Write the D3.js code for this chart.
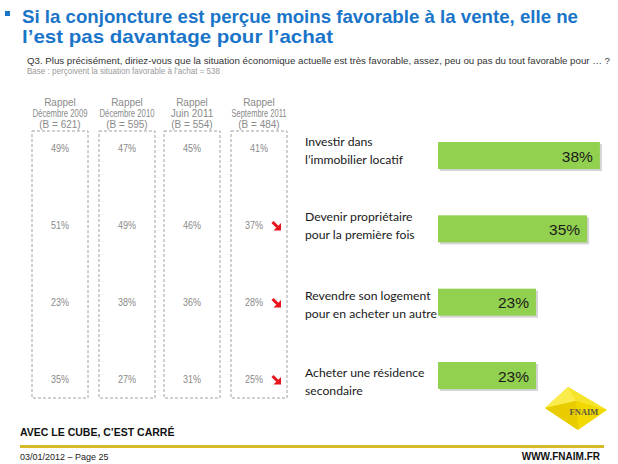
<!DOCTYPE html>
<html><head><meta charset="utf-8">
<script src="https://cdn.jsdelivr.net/npm/d3@7/dist/d3.min.js"></script>
<style>
html,body{margin:0;padding:0;background:#fff;}
svg{display:block;}
</style></head>
<body>
<svg id="c" width="618" height="464"></svg>
<script>
const titleLines = ["Si la conjoncture est perçue moins favorable à la vente, elle ne", "l’est pas davantage pour l’achat"];
const question = "Q3. Plus précisément, diriez-vous que la situation économique actuelle est très favorable, assez, peu ou pas du tout favorable pour … ?";
const baseNote = "Base : perçoivent la situation favorable à l’achat = 538";
const categories = [
  ["Investir dans", "l’immobilier locatif"],
  ["Devenir propriétaire", "pour la première fois"],
  ["Revendre son logement", "pour en acheter un autre"],
  ["Acheter une résidence", "secondaire"]
];
const values = [38, 35, 23, 23];
const periods = [
  ["Rappel", "Décembre 2009", "(B = 621)"],
  ["Rappel", "Décembre 2010", "(B = 595)"],
  ["Rappel", "Juin 2011", "(B = 554)"],
  ["Rappel", "Septembre 2011", "(B = 484)"]
];
const history = [
  [49, 51, 23, 35],
  [47, 49, 38, 27],
  [45, 46, 36, 31],
  [41, 37, 28, 25]
];
const decline = [false, true, true, true]; // red arrows on last period
const footerLeft = "AVEC LE CUBE, C’EST CARRÉ";
const footerDate = "03/01/2012 – Page 25";
const footerUrl = "WWW.FNAIM.FR";

const svg = d3.select("#c");
const sans = "Liberation Sans Narrow, Liberation Sans, Arial, sans-serif";

function clampWidth(sel, maxW) {
  sel.each(function() {
    const w = this.getComputedTextLength();
    if (w > maxW) d3.select(this).attr("textLength", maxW).attr("lengthAdjust", "spacingAndGlyphs");
  });
}

// Title
const blue = "#1a75c9";
svg.append("rect").attr("x", 5).attr("y", 11).attr("width", 5).attr("height", 5).attr("fill", blue);
const titleLens = [556, 311];
svg.selectAll(".title").data(titleLines).join("text")
  .attr("x", 22).attr("y", (d, i) => 23 + i * 20)
  .attr("font-family", "Liberation Sans, Arial, sans-serif")
  .attr("font-weight", "bold").attr("font-size", 19).attr("fill", blue)
  .attr("textLength", (d, i) => titleLens[i]).attr("lengthAdjust", "spacingAndGlyphs")
  .text(d => d);

svg.append("text").attr("x", 27).attr("y", 64)
  .attr("font-family", sans)
  .attr("font-size", 9.5).attr("fill", "#333").attr("textLength", 583).attr("lengthAdjust", "spacingAndGlyphs")
  .text(question);
svg.append("text").attr("x", 27).attr("y", 74)
  .attr("font-family", sans)
  .attr("font-size", 9.5).attr("fill", "#999").attr("textLength", 193).attr("lengthAdjust", "spacingAndGlyphs")
  .text(baseNote);

// History columns
const colLeft = [32, 99, 164, 231];
const colW = 56;
const histY = d3.scalePoint().domain(d3.range(4)).range([152, 383]);

const cols = svg.selectAll(".col").data(periods).join("g").attr("class", "col")
  .attr("transform", (d, i) => `translate(${colLeft[i]},0)`);

cols.append("rect").attr("x", 0).attr("y", 131).attr("width", colW).attr("height", 267)
  .attr("fill", "none").attr("stroke", "#a0a0a0").attr("stroke-width", 1).attr("stroke-dasharray", "3,2");

cols.each(function(p, ci) {
  const g = d3.select(this);
  const hd = g.selectAll(".hd").data(p).join("text")
    .attr("x", colW / 2).attr("y", (d, i) => 105.5 + i * 11)
    .attr("text-anchor", "middle")
    .attr("font-family", sans)
    .attr("font-size", 10).attr("fill", "#8a8a8a").text(d => d);
  clampWidth(hd, 55);
  const last = ci === periods.length - 1;
  const vals = g.selectAll(".v").data(history[ci]).join("text")
    .attr("x", (d, i) => last && decline[i] ? colW / 2 - 5 : colW / 2)
    .attr("y", (d, i) => histY(i))
    .attr("text-anchor", "middle")
    .attr("font-family", sans)
    .attr("font-size", 10.5).attr("fill", "#8a8a8a").text(d => d + "%");
  clampWidth(vals, 18);
  if (last) {
    const ar = g.selectAll(".arr").data(history[ci].map((d, i) => i).filter(i => decline[i])).join("g")
      .attr("transform", i => `translate(${colW / 2 + 17},${histY(i) - 3.5})`);
    ar.append("line").attr("x1", -3.5).attr("y1", -3.5).attr("x2", 1.5).attr("y2", 1.5)
      .attr("stroke", "#e8141c").attr("stroke-width", 3);
    ar.append("path").attr("d", "M5,5 L5,-2.5 L-2.5,5 Z").attr("fill", "#e8141c");
  }
});

// Bars
const x = d3.scaleLinear().domain([0, 100]).range([0, 426]);
const barX0 = 438;
const barY = d3.scalePoint().domain(d3.range(4)).range([142, 362]);
const barH = 27;
const labY = [142, 217, 296, 373];

const rows = svg.selectAll(".row").data(values).join("g").attr("class", "row");
rows.append("rect").attr("x", barX0 + 2).attr("y", (d, i) => barY(i) + 2)
  .attr("width", d => x(d)).attr("height", barH).attr("fill", "#c9c9c9").attr("opacity", 0.8);
rows.append("rect").attr("x", barX0).attr("y", (d, i) => barY(i))
  .attr("width", d => x(d)).attr("height", barH).attr("fill", "#92d050");
rows.append("text").attr("x", d => barX0 + x(d) - 7).attr("y", (d, i) => barY(i) + barH / 2 + 6)
  .attr("text-anchor", "end").attr("font-family", "Liberation Sans, Arial, sans-serif")
  .attr("font-size", 15.5).attr("fill", "#1a1a1a").text(d => d + "%");

rows.each(function(d, i) {
  d3.select(this).selectAll(".lab").data(categories[i]).join("text")
    .attr("x", 305).attr("y", (t, j) => labY[i] + 4 + j * 18)
    .attr("font-family", "Lato, Carlito, sans-serif").attr("font-size", 12.2).attr("fill", "#1a1a1a")
    .text(t => t);
});

// Logo
const logo = svg.append("g");
logo.append("path").attr("d", "M545,408 L568,387 L607,410 L578,430 Z").attr("fill", "#f0d800");
logo.append("path").attr("d", "M545,408 L568,387 L576,401 Z").attr("fill", "#f9ec4c");
logo.append("path").attr("d", "M568,387 L607,410 L576,401 Z").attr("fill", "#f6e32c");
logo.append("path").attr("d", "M545,408 L576,401 L578,430 Z").attr("fill", "#e8cc00");
logo.append("text").attr("x", 584).attr("y", 415).attr("text-anchor", "middle")
  .attr("font-family", "Liberation Serif, serif").attr("font-weight", "bold").attr("font-size", 8.5)
  .attr("fill", "#5e5a40").text("FNAIM");

// Footer
svg.append("text").attr("x", 20).attr("y", 436)
  .attr("font-family", "Liberation Sans, Arial, sans-serif").attr("font-weight", "bold")
  .attr("font-size", 10.5).attr("fill", "#111").text(footerLeft);
svg.append("rect").attr("x", 20).attr("y", 445).attr("width", 584).attr("height", 3).attr("fill", "#d8b928");
svg.append("text").attr("x", 20).attr("y", 460)
  .attr("font-family", "Liberation Sans, Arial, sans-serif").attr("font-size", 9).attr("fill", "#222").text(footerDate);
svg.append("text").attr("x", 600).attr("y", 460).attr("text-anchor", "end")
  .attr("font-family", "Liberation Sans, Arial, sans-serif").attr("font-weight", "bold")
  .attr("font-size", 10).attr("fill", "#111").text(footerUrl);
</script>
</body></html>
